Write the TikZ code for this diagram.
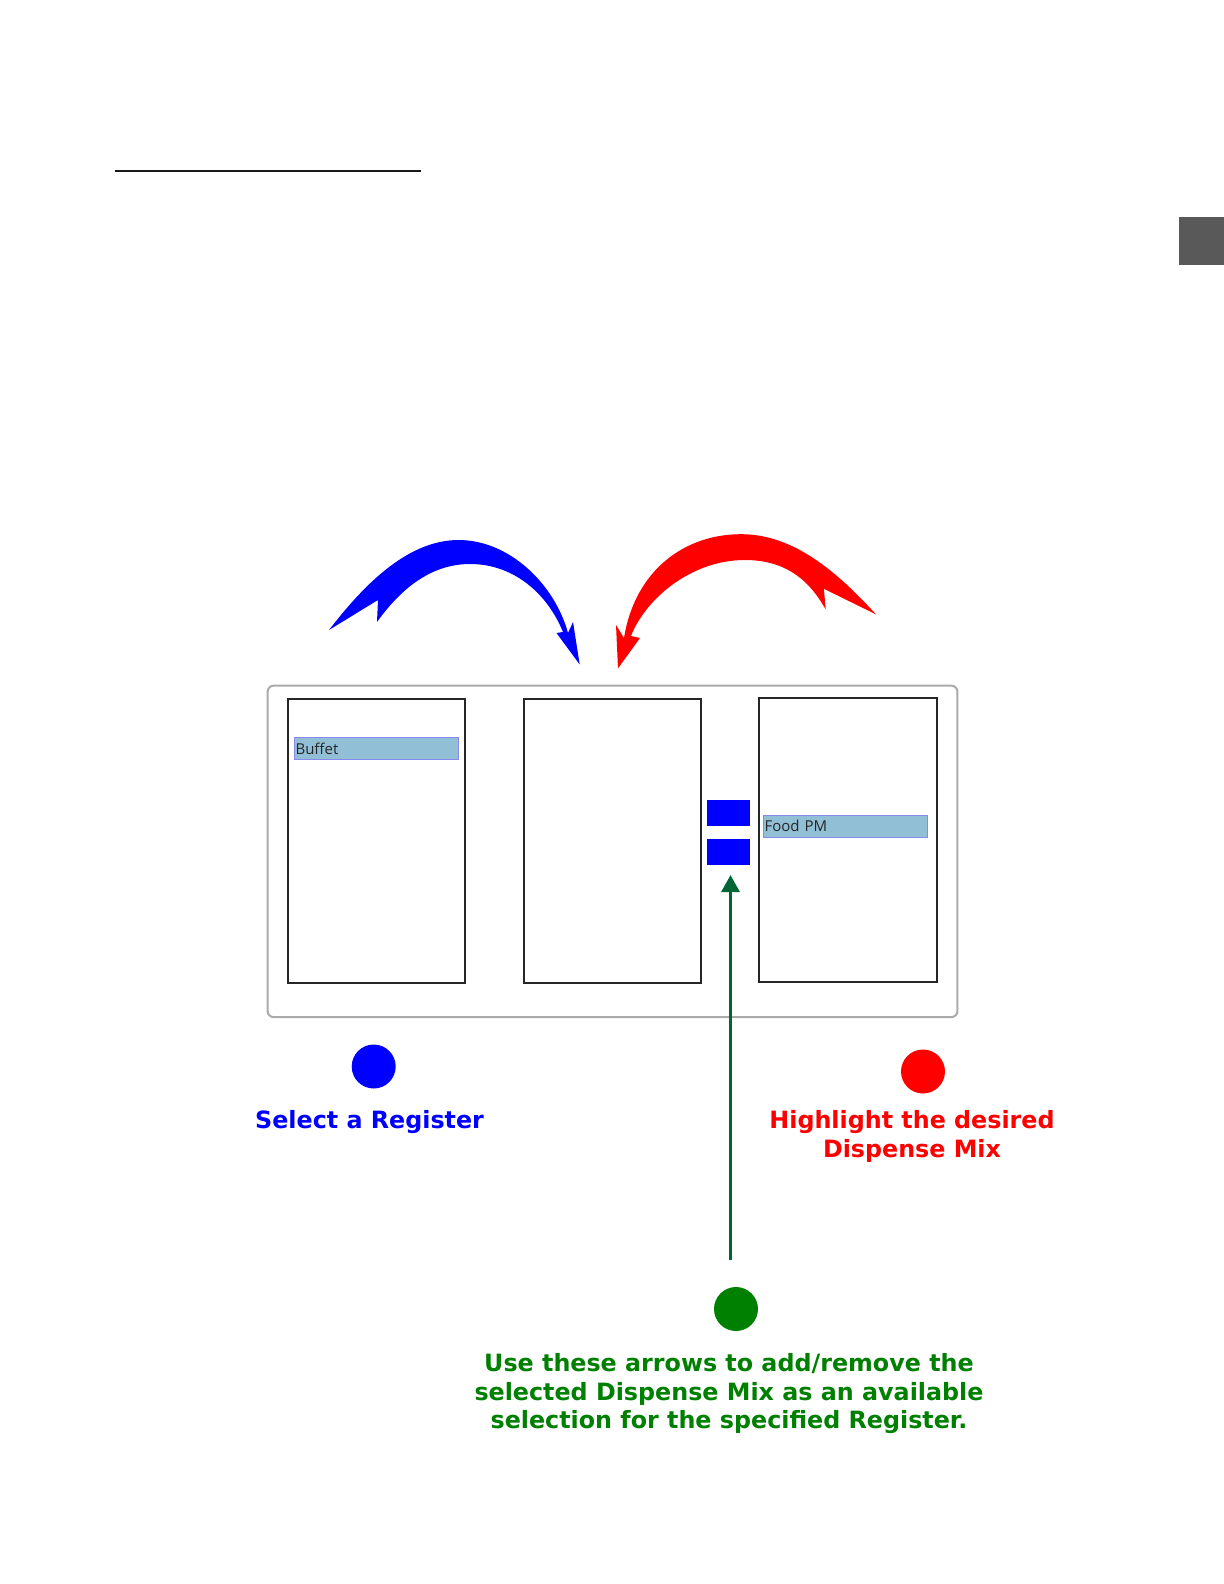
\documentclass[tikz,border=0pt]{standalone}
\usepackage{fontspec}
\setmainfont{DejaVu Sans}
\newfontfamily\listfont{Open Sans}
\usetikzlibrary{arrows.meta,positioning}

\definecolor{regblue}{RGB}{0,0,255}
\definecolor{mixred}{RGB}{255,0,0}
\definecolor{stepgreen}{RGB}{0,128,0}
\definecolor{arrowgreen}{RGB}{0,102,51}
\definecolor{selfill}{RGB}{145,192,214}
\definecolor{selline}{RGB}{136,136,238}
\definecolor{framegray}{RGB}{170,170,170}
\definecolor{tabgray}{RGB}{89,89,89}

\begin{document}
\begin{tikzpicture}[x=0.5pt, y=-0.5pt,
    listbox/.style={draw=black!85, line width=1pt, minimum width=88.6pt, minimum height=141.8pt, inner sep=0pt},
    selitem/.style={draw=selline, fill=selfill, line width=0.6pt, text width=81pt, align=left, minimum height=11pt, inner sep=0.5pt, text=black!85, font=\listfont\fontsize{7.5}{9}\selectfont},
    movebtn/.style={fill=regblue, minimum width=21.6pt, minimum height=12.8pt, inner sep=0pt},
    dot/.style={circle, minimum size=22pt, inner sep=0pt},
    hint/.style={font=\bfseries\fontsize{11.9}{14.3}\selectfont, align=center}]
    \useasboundingbox (0,0) rectangle (1224,1584);

    % page bits
    \draw[black!90, line width=0.8pt] (115,170.7) -- (421,170.7);
    \fill[tabgray] (1178.5,217) rectangle (1224,265);

    % the dialog
    \node[draw=framegray, line width=1pt, rounded corners=3pt, minimum width=344.9pt, minimum height=165.7pt] (frame) at (612.5,851.4) {};
    \node[listbox] (lstreg) at (376.75,840.85) {};
    \node[listbox, right=28.2pt of lstreg] (lstmid) {};
    \node[listbox, right=28.2pt of lstmid, yshift=0.5pt] (lstmix) {};
    \node[selitem] (buffet) at (376.55,748.5) {Buffet};
    \node[selitem] (foodpm) at (845.5,826.15) {Food PM};
    \node[movebtn] (btnadd) at (728.55,812.85) {};
    \node[movebtn] (btnrem) at (728.55,851.85) {};

    % curved arrows
    \fill[regblue] (329,630) .. controls (360,590) and (405,540) .. (458.5,540)
        .. controls (510,540) and (555,585) .. (568,633) -- (573,622) -- (579.7,664.5)
        -- (556.5,633) -- (563,632) .. controls (548,595) and (515,564) .. (470,564)
        .. controls (430,564) and (400,590) .. (377,622) -- (378,600) -- cycle;
    \fill[mixred] (876,614.4) .. controls (840,575) and (795,534) .. (741.3,534.2)
        .. controls (685,534) and (635,570) .. (624,638) -- (616,625) -- (618,668.4)
        -- (640,638) -- (631,636) .. controls (645,600) and (690,560) .. (745,560)
        .. controls (790,560) and (812,585) .. (825.7,609.5) -- (823.9,588.8) -- cycle;

    % steps
    \node[dot, fill=regblue] (regdot) at (373.7,1066.5) {};
    \node[dot, fill=mixred] (mixdot) at (923,1071.5) {};
    \node[dot, fill=stepgreen] (stepdot) at (736,1309) {};
    \node[hint, text=regblue] (regtxt) at (369.6,1122) {Select a Register};
    \node[hint, text=mixred] (mixtxt) at (912,1136.5) {Highlight the desired\\Dispense Mix};
    \node[hint, text=stepgreen] (steptxt) at (729,1393.6) {Use these arrows to add/remove the\\selected Dispense Mix as an available\\selection for the specified Register.};

    \coordinate (gtail) at (730.5,1260);
    \draw[arrowgreen, line width=1.6pt, -{Triangle[length=8.5pt,width=9pt]}, shorten >=5pt] (gtail) -- (gtail |- btnrem.south);
\end{tikzpicture}
\end{document}
